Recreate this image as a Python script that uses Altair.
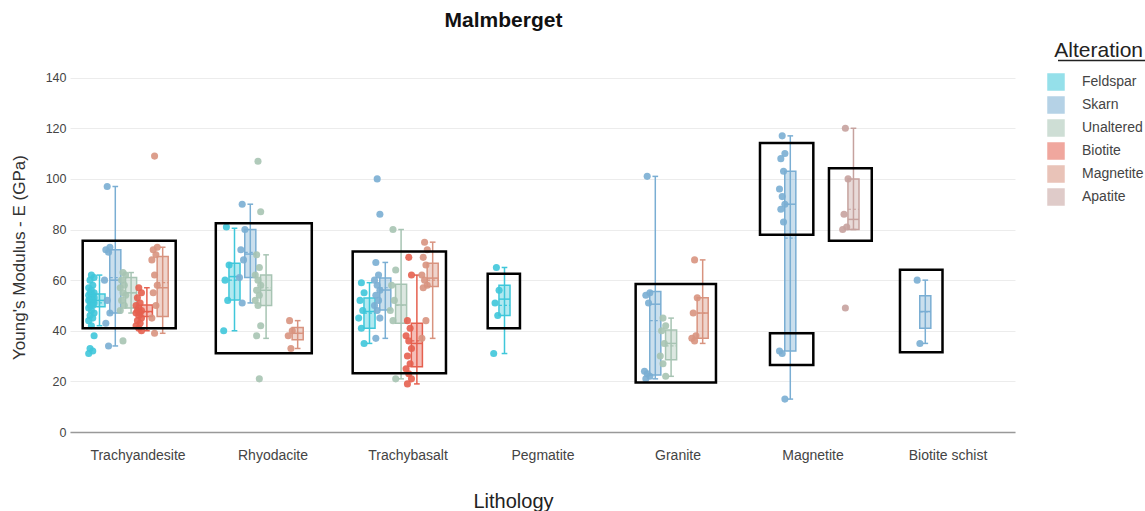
import json
import altair as alt
import pandas as pd

# Categories
lithologies = ["Trachyandesite", "Rhyodacite", "Trachybasalt", "Pegmatite",
               "Granite", "Magnetite", "Biotite schist"]
alterations = ["Feldspar", "Skarn", "Unaltered", "Biotite", "Magnetite", "Apatite"]
alteration_colors = ["#3fc7da", "#7aaed3", "#a7c4b3", "#e5604f", "#d8937f", "#c6a29e"]

# Box statistics (GPa) for each lithology / alteration group
box_lith = ["Trachyandesite"] * 5 + ["Rhyodacite"] * 4 + ["Trachybasalt"] * 5 + \
           ["Pegmatite"] + ["Granite"] * 3 + ["Magnetite"] * 2 + ["Biotite schist"]
box_alt = ["Feldspar", "Skarn", "Unaltered", "Biotite", "Magnetite",
           "Feldspar", "Skarn", "Unaltered", "Magnetite",
           "Feldspar", "Skarn", "Unaltered", "Biotite", "Magnetite",
           "Feldspar",
           "Skarn", "Unaltered", "Magnetite",
           "Skarn", "Apatite",
           "Skarn"]
whisker_lo = [42, 34, 47, 40, 39, 40, 51, 37, 33, 35, 37, 21, 19, 37, 31, 21, 22, 35, 13, 80, 35]
q1 = [49.5, 47, 49, 45.6, 45.6, 52.2, 61, 50, 36.4, 41, 48.2, 43, 25.8, 57.5, 46, 22.5, 28.5, 37, 32, 80, 41]
median = [52, 60, 55, 47.6, 57, 61.4, 70.3, 56, 39, 47.6, 56.1, 50.2, 35, 60.8, 52.5, 50.5, 35, 47, 90, 84, 47.6]
q3 = [54.5, 72, 61, 50.2, 69.3, 66.7, 80, 62, 41.3, 52.9, 60.8, 58.4, 43, 66.7, 58, 55.5, 40.3, 53, 103, 100, 53.8]
whisker_hi = [62, 97, 63, 57, 73, 80.5, 90, 70, 44, 59, 67, 80, 62, 75, 65, 101, 45, 68, 117, 120, 60]
mean = [51, 61, 55, 47.5, 59, 60, 71, 57, 39, 47, 57, 50, 36, 60, 50, 44, 34, 47, 76.6, 88, 47.5]

# Individual measurements (GPa)
trachyandesite_feldspar = [62, 61, 60, 58, 57, 56, 55, 55, 54, 54, 53, 53, 52, 52, 52, 51, 51,
                           50, 50, 49, 48, 47, 46, 45, 44, 42, 38, 33, 32, 31]
trachyandesite_skarn = [97, 73, 72, 71, 60, 52, 47, 43, 34]
trachyandesite_unaltered = [63, 62, 60, 58, 57, 55, 54, 52, 50, 48, 36]
trachyandesite_biotite = [57, 55, 53, 51, 50, 49, 48, 48, 47, 47, 46, 45, 44, 43, 42, 41, 40]
trachyandesite_magnetite = [109, 73, 72, 70, 68, 62, 58, 55, 50, 45, 39]
rhyodacite_feldspar = [81, 66, 60, 52, 40]
rhyodacite_skarn = [90, 80, 72, 68, 61, 51]
rhyodacite_unaltered = [107, 87, 70, 65, 62, 60, 58, 56, 54, 52, 50, 42, 38, 21]
rhyodacite_magnetite = [44, 40, 38, 33]
trachybasalt_feldspar = [59, 55, 52, 48, 45, 41, 35]
trachybasalt_skarn = [100, 86, 67, 62, 60, 58, 56, 54, 52, 50, 48, 45, 37]
trachybasalt_unaltered = [80, 64, 58, 52, 48, 44, 21]
trachybasalt_biotite = [69, 62, 44, 41, 38, 36, 33, 30, 27, 25, 23, 21, 19]
trachybasalt_magnetite = [75, 72, 69, 66, 62, 60, 58, 57, 44, 37]
pegmatite_feldspar = [65, 56, 51, 46, 31]
granite_skarn = [101, 55, 54, 51, 24, 23, 22, 21]
granite_unaltered = [45, 42, 40, 35, 30, 27, 22]
granite_magnetite = [68, 53, 47, 38, 37, 36]
magnetite_skarn = [117, 110, 108, 103, 96, 93, 90, 88, 83, 32, 31, 13]
magnetite_apatite = [120, 100, 86, 81, 80, 49]
biotite_schist_skarn = [60, 35]

# Highlight frames: lithology, horizontal extent (in category widths from its centre), E range
frame_lith = ["Trachyandesite", "Rhyodacite", "Trachybasalt", "Pegmatite", "Granite",
              "Magnetite", "Magnetite", "Magnetite", "Biotite schist"]
frame_left = [-0.406, -0.42, -0.406, -0.406, -0.31, -0.389, -0.315, 0.122, -0.352]
frame_right = [0.283, 0.291, 0.285, -0.167, 0.285, 0.006, 0.006, 0.439, -0.037]
frame_lo = [41, 31.1, 23.2, 41, 19.6, 77.9, 26.5, 75.6, 31.5]
frame_hi = [75.6, 82.5, 71.3, 62.5, 58.5, 114.2, 39, 104.2, 64.1]

groups = [
    ("Trachyandesite", "Feldspar", trachyandesite_feldspar),
    ("Trachyandesite", "Skarn", trachyandesite_skarn),
    ("Trachyandesite", "Unaltered", trachyandesite_unaltered),
    ("Trachyandesite", "Biotite", trachyandesite_biotite),
    ("Trachyandesite", "Magnetite", trachyandesite_magnetite),
    ("Rhyodacite", "Feldspar", rhyodacite_feldspar),
    ("Rhyodacite", "Skarn", rhyodacite_skarn),
    ("Rhyodacite", "Unaltered", rhyodacite_unaltered),
    ("Rhyodacite", "Magnetite", rhyodacite_magnetite),
    ("Trachybasalt", "Feldspar", trachybasalt_feldspar),
    ("Trachybasalt", "Skarn", trachybasalt_skarn),
    ("Trachybasalt", "Unaltered", trachybasalt_unaltered),
    ("Trachybasalt", "Biotite", trachybasalt_biotite),
    ("Trachybasalt", "Magnetite", trachybasalt_magnetite),
    ("Pegmatite", "Feldspar", pegmatite_feldspar),
    ("Granite", "Skarn", granite_skarn),
    ("Granite", "Unaltered", granite_unaltered),
    ("Granite", "Magnetite", granite_magnetite),
    ("Magnetite", "Skarn", magnetite_skarn),
    ("Magnetite", "Apatite", magnetite_apatite),
    ("Biotite schist", "Skarn", biotite_schist_skarn),
]

points = pd.DataFrame(
    [{"lith": l, "alt": a, "E": v} for l, a, vals in groups for v in vals]
)
boxes = pd.DataFrame({
    "lith": box_lith, "alt": box_alt, "lo": whisker_lo, "q1": q1,
    "med": median, "q3": q3, "hi": whisker_hi, "mean": mean,
})
frames = pd.DataFrame({
    "lith": frame_lith, "left": frame_left, "right": frame_right,
    "lo": frame_lo, "hi": frame_hi,
})

LITHS = json.dumps(lithologies)
ALTS = json.dumps(alterations)
# dodge: each alteration gets its own slot inside the lithology band
cat_expr = f"indexof({LITHS}, datum.lith)"
slot_expr = f"datum.cat - 0.2815 + 0.117 * indexof({ALTS}, datum.alt)"

x_scale = alt.Scale(domain=[-0.5, 6.5], nice=False, zero=False)
y_scale = alt.Scale(domain=[0, 145], nice=False, zero=False)
col_scale = alt.Scale(domain=alterations, range=alteration_colors)

x_axis = alt.Axis(
    values=list(range(len(lithologies))),
    labelExpr=f"{LITHS}[datum.value]",
    title="Lithology", grid=False, ticks=False,
    domainColor="#999999", domainWidth=1.5,
    labelFontSize=14, labelColor="#444444", labelPadding=16,
    titleFontSize=20, titleFontWeight="normal", titleColor="#222222",
    titleX=443, titleY=75, titleBaseline="alphabetic", titleAlign="center",
)
y_axis = alt.Axis(
    values=list(range(0, 141, 20)), title="Young's Modulus - E (GPa)",
    grid=True, gridColor="#ececec", domain=False, ticks=False,
    labelFontSize=12.5, labelColor="#444444", labelPadding=4,
    titleFontSize=17, titleFontWeight="normal", titleColor="#333333",
    titleX=-51, titleY=192, titleAlign="center", titleBaseline="middle", titleAngle=-90,
)

alteration_legend = alt.Legend(
    title="Alteration", orient="none", legendX=977, legendY=-25,
    titleFontSize=21, titleFontWeight="normal", titleColor="#222222",
    titleAnchor="end", titlePadding=12,
    labelFontSize=14, labelColor="#444444", labelOffset=17,
    symbolType="square", symbolSize=240, symbolStrokeWidth=2,
    symbolOpacity=0.55, rowPadding=-1,
)

box_base = alt.Chart(boxes).transform_calculate(
    cat=cat_expr
).transform_calculate(
    xc=slot_expr
).transform_calculate(
    xl="datum.xc - 0.041", xr="datum.xc + 0.041",
    cl="datum.xc - 0.021", cr="datum.xc + 0.021",
)

stroke_enc = alt.Stroke("alt:N", scale=col_scale, legend=alteration_legend)

whiskers = box_base.mark_rule(strokeWidth=1.5).encode(
    x=alt.X("xc:Q", scale=x_scale, axis=x_axis),
    y=alt.Y("lo:Q", scale=y_scale, axis=y_axis),
    y2="hi:Q",
    stroke=stroke_enc,
)
caps_lo = box_base.mark_rule(strokeWidth=1.5).encode(
    x="cl:Q", x2="cr:Q", y="lo:Q", stroke=stroke_enc,
)
caps_hi = box_base.mark_rule(strokeWidth=1.5).encode(
    x="cl:Q", x2="cr:Q", y="hi:Q", stroke=stroke_enc,
)
box_body = box_base.mark_rect(fillOpacity=0.4, strokeWidth=1.5).encode(
    x="xl:Q", x2="xr:Q", y="q1:Q", y2="q3:Q",
    fill=alt.Fill("alt:N", scale=col_scale, legend=alteration_legend),
    stroke=stroke_enc,
)
medians = box_base.mark_rule(strokeWidth=1.5).encode(
    x="xl:Q", x2="xr:Q", y="med:Q", stroke=stroke_enc,
)
means = box_base.mark_rule(strokeWidth=1.2, strokeDash=[3, 2]).encode(
    x="xl:Q", x2="xr:Q", y="mean:Q", stroke=stroke_enc,
)

dots = alt.Chart(points).transform_window(
    rn="row_number()", groupby=["lith", "alt"]
).transform_calculate(
    cat=cat_expr
).transform_calculate(
    xc=slot_expr
).transform_calculate(
    xp="datum.xc - 0.06 + ((datum.rn * 7) % 5 - 2) * 0.01"
).mark_circle(size=50, opacity=0.9).encode(
    x="xp:Q", y="E:Q",
    fill=alt.Fill("alt:N", scale=col_scale, legend=alteration_legend),
)

frame_marks = alt.Chart(frames).transform_calculate(
    cat=cat_expr
).transform_calculate(
    x0="datum.cat + datum.left", x1="datum.cat + datum.right"
).mark_rect(fillOpacity=0, stroke="black", strokeWidth=2.5).encode(
    x="x0:Q", x2="x1:Q", y="lo:Q", y2="hi:Q",
)

legend_underline = alt.Chart(pd.DataFrame({"t": [0]})).mark_rule(
    color="#222222", strokeWidth=1.5
).encode(x=alt.value(988), x2=alt.value(1075), y=alt.value(-4.5))

chart = alt.layer(
    whiskers, caps_lo, caps_hi, box_body, medians, means, dots, frame_marks, legend_underline
).properties(
    width=945, height=367,
    autosize=alt.AutoSizeParams(type="none"),
    padding={"left": 70, "top": 65, "right": 130, "bottom": 79},
    title=alt.TitleParams(
        "Malmberget", fontSize=21, fontWeight="bold", color="#111111",
        anchor="middle", frame="group", dx=-39, offset=-8, baseline="alphabetic",
    ),
).configure(
    font="Liberation Sans",
    background="white",
).configure_view(
    stroke=None,
)

chart.save("out.html", embed_options={"renderer": "svg", "actions": False})
